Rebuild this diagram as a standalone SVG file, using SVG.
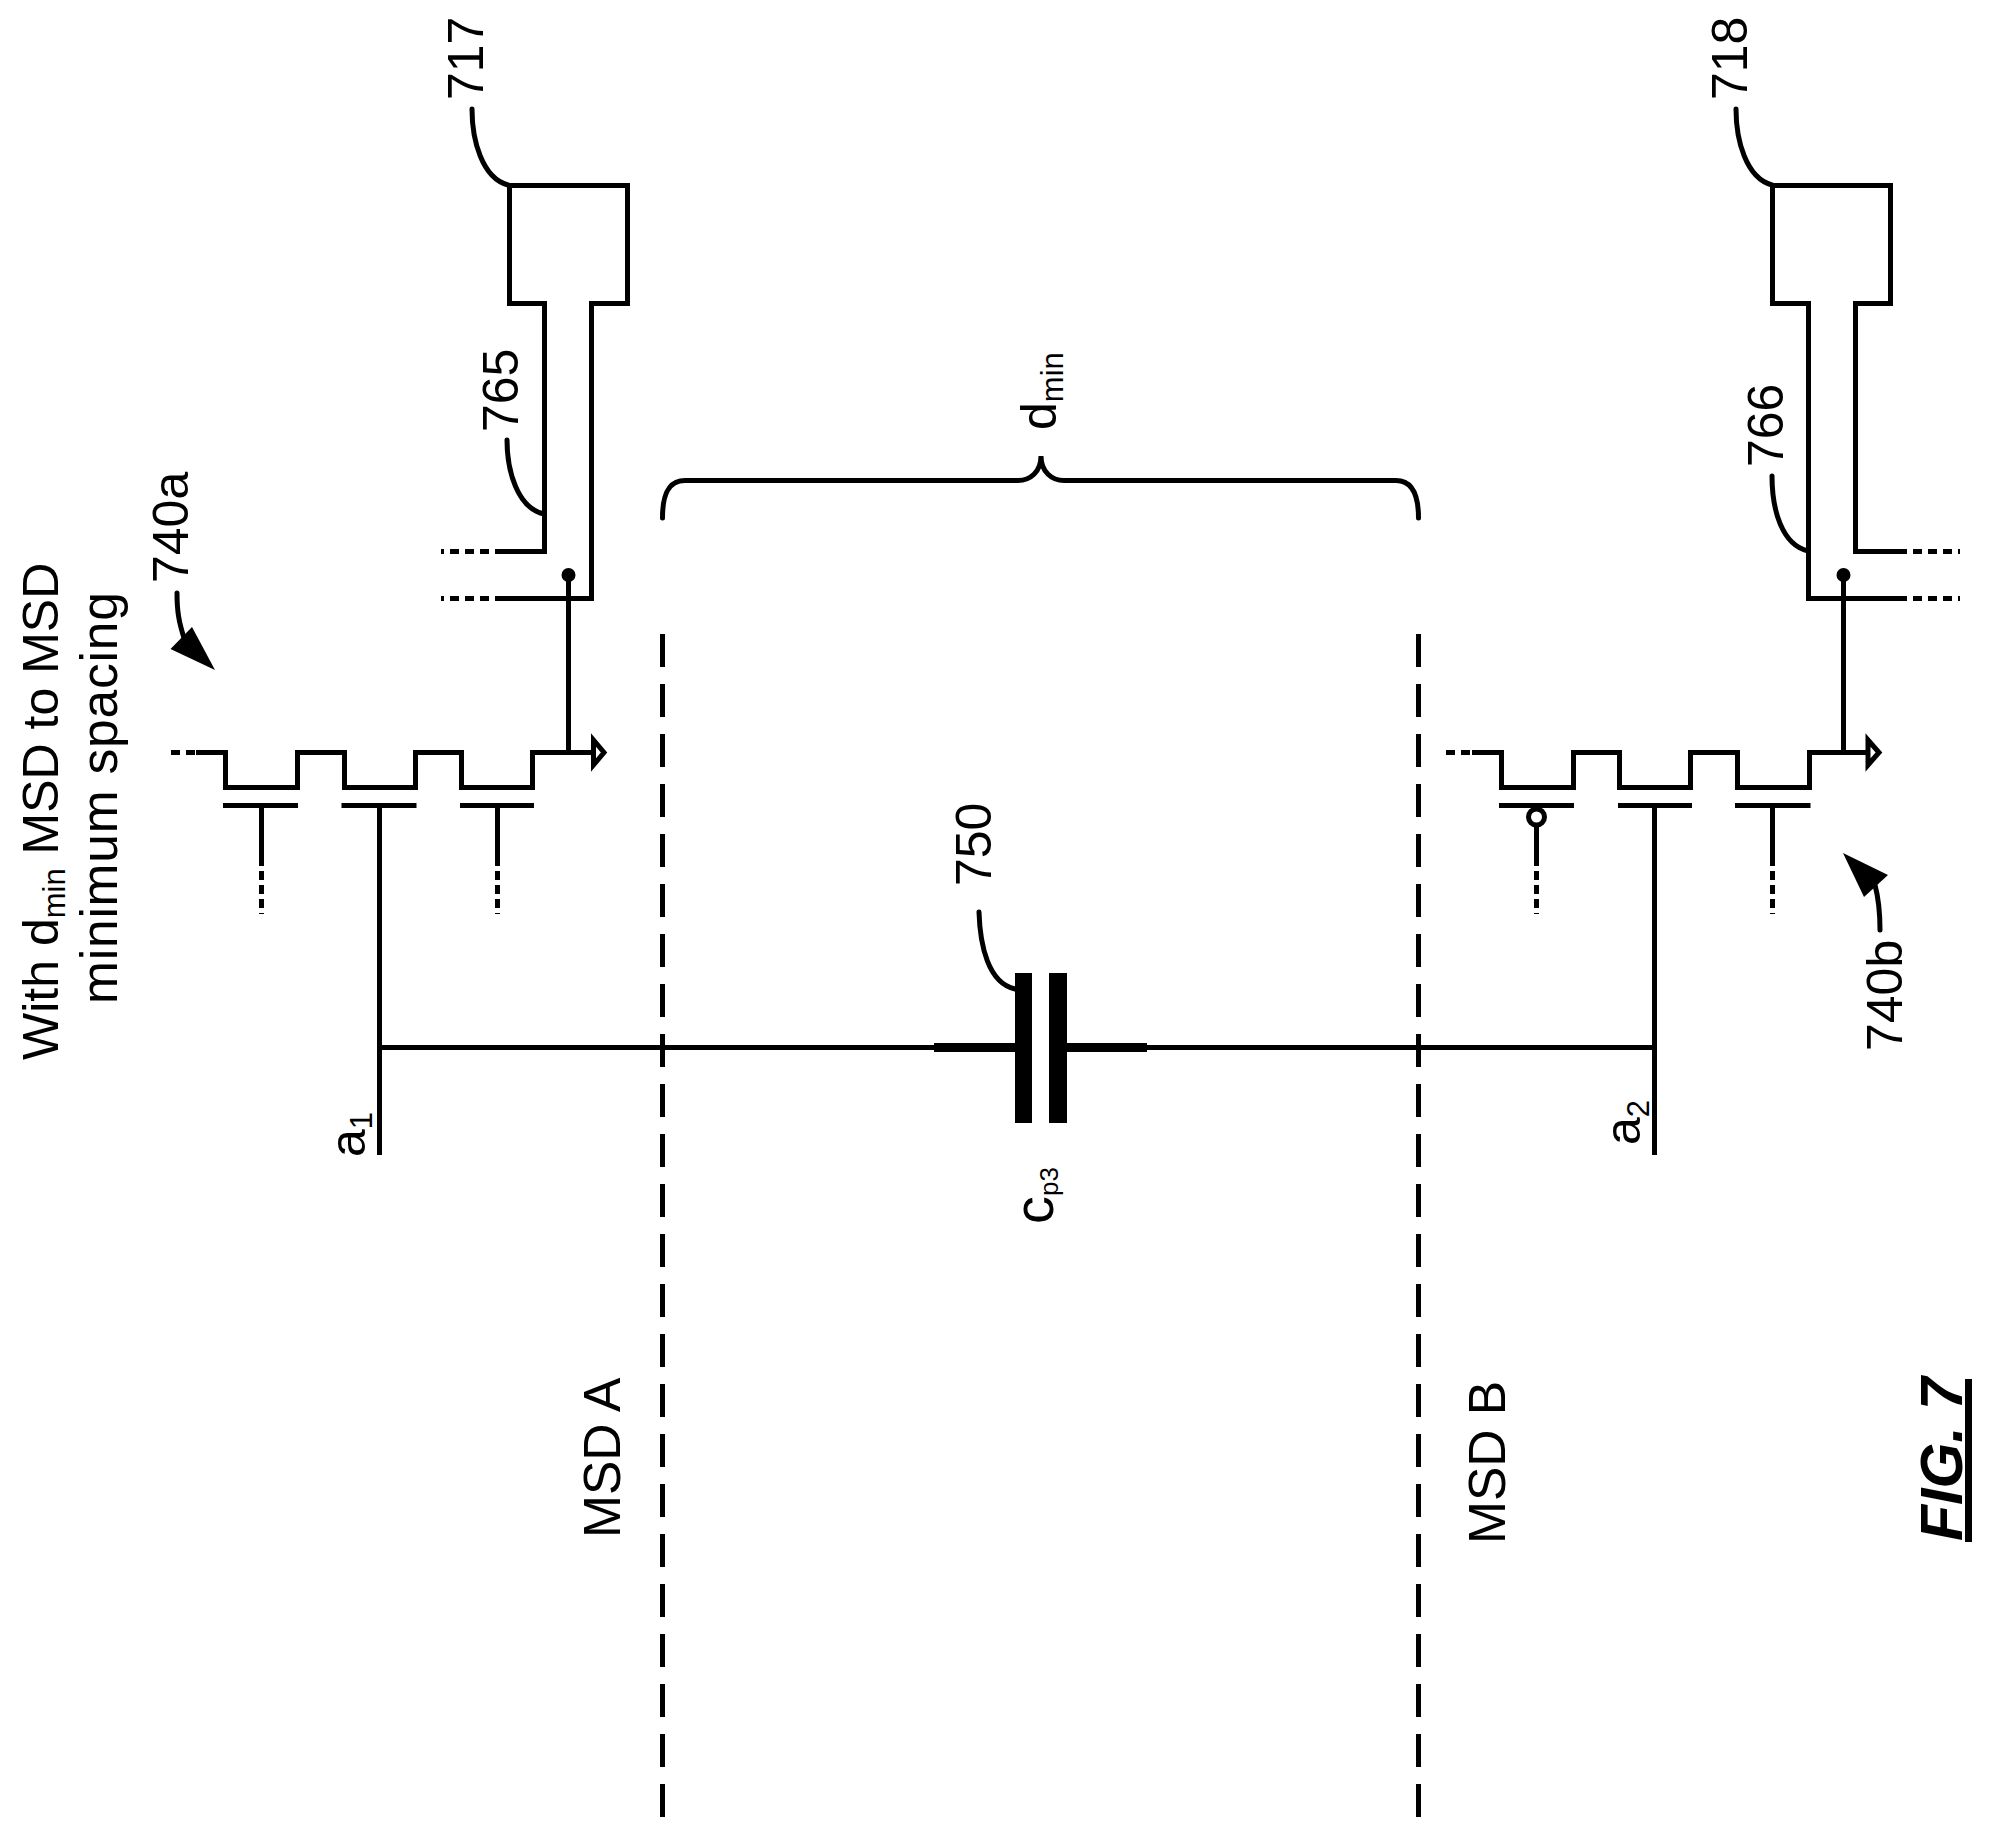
<svg xmlns="http://www.w3.org/2000/svg" width="1992" height="1838" viewBox="0 0 1992 1838">
<style>
text{font-family:"Liberation Sans",Arial,sans-serif;font-size:50px;fill:#000}
.sub{font-size:31px}
.sub2{font-size:26px}
.big{font-size:51.500px;letter-spacing:.8px}
.msd{font-size:51.500px}
.fig{font-size:59px;font-weight:bold;font-style:italic}
.w{fill:none;stroke:#000;stroke-width:5;stroke-linejoin:miter}
.l{fill:none;stroke:#000;stroke-width:5;stroke-linecap:round}
.dot{fill:none;stroke:#000;stroke-width:5;stroke-dasharray:9 5}
.hd{fill:none;stroke:#000;stroke-width:5;stroke-dasharray:9 6}
.dd{fill:none;stroke:#000;stroke-width:5;stroke-dasharray:33 17}
.k{fill:#000}
</style>
<rect width="1992" height="1838" fill="#fff"/>
<g id="connectors">
<path class="w" d="M379.500 805V1155M379.500 1047.500H934M1147 1047.500H1654.500M1654.500 805V1155"/>
<path class="dd" d="M662.500 634V1826"/>
<path class="dd" d="M1418.500 634V1826"/>
<path class="w" d="M568.500 752V575"/>
<path class="w" d="M1843.500 752V575"/>
<path class="l" d="M472 109C472 140 482 178 508 185"/>
<path class="l" d="M1736 109C1736 140 1746 178 1772 185"/>
<path class="l" d="M507 440C507 470 517 508 544 514"/>
<path class="l" d="M1772 476C1772 510 1782 545 1808 551"/>
<path class="l" d="M979 912C980 945 988 983 1015 989"/>
<path class="l" d="M662.500 518C662.500 495 668 480.500 685 480.500H1018C1030 480.500 1041 472 1041 456C1041 472 1052 480.500 1064 480.500H1396C1412 480.500 1418.500 495 1418.500 518" stroke-linecap="butt"/>
<path class="l" d="M177 593C177 612 179 622 184 638"/>
<polygon class="k" points="215,670 192,627 170.500,649"/>
<path class="l" d="M1880 930C1880 912 1879 900 1875 885"/>
<polygon class="k" points="1843,853 1888,875 1864,897"/>
</g>
<g id="box-717"><path class="w" d="M504 551.500H544.500V303.500H509.500V185.500H627.500V303.500H591.500V598.500H504"/><path class="hd" d="M504 551.500H441M504 598.500H441"/></g>
<g id="box-718"><path class="w" d="M1898 598.500H1808.500V303.500H1772.500V185.500H1890.500V303.500H1855.500V551.500H1898"/><path class="hd" d="M1898 551.500H1960M1898 598.500H1960"/></g>
<circle class="k" cx="568.500" cy="575" r="7"/>
<circle class="k" cx="1843.500" cy="575" r="7"/>
<g id="msd-740a">
<path class="hd" d="M171 752.500H196"/>
<path class="w" d="M196 752.500H225.500V787.500H297.500V752.500H344.500V787.500H415.500V752.500H461.500V787.500H532.500V752.500H594"/>
<polygon points="593.500,740 593.500,765 604,752.500" fill="#fff" stroke="#000" stroke-width="5"/>
<path class="w" d="M223 805.500H298M341.500 805.500H416.500M460 805.500H534M261.500 805.500V857M497.500 805.500V857"/>
<path class="dot" d="M261.500 857V914M497.500 857V914"/>
</g>
<g id="msd-740b">
<path class="hd" d="M1446 752.500H1472"/>
<path class="w" d="M1472 752.500H1501.500V787.500H1573.500V752.500H1619.500V787.500H1690.500V752.500H1737.500V787.500H1809.500V752.500H1868"/>
<polygon points="1868,740 1868,765 1879,752.500" fill="#fff" stroke="#000" stroke-width="5"/>
<path class="w" d="M1499 805.500H1574M1618 805.500H1692M1735 805.500H1810.500M1772.500 805.500V857M1536.500 826V857"/>
<circle cx="1536.500" cy="817" r="8" fill="#fff" stroke="#000" stroke-width="5"/>
<path class="dot" d="M1536.500 857V914M1772.500 857V914"/>
</g>
<g id="cap-750">
<rect class="k" x="1015" y="973" width="17" height="150"/>
<rect class="k" x="1049" y="973" width="18" height="150"/>
<rect class="k" x="934" y="1043" width="81" height="9"/>
<rect class="k" x="1067" y="1043" width="80" height="9"/>
</g>
<g id="labels">
<text transform="translate(58,1060) rotate(-90)">With d<tspan class="sub" dy="7">min</tspan><tspan dy="-7"> MSD to MSD</tspan></text>
<text class="big" transform="translate(117,1004) rotate(-90)">minimum spacing</text>
<text transform="translate(188,583) rotate(-90)">740a</text>
<text transform="translate(483,100) rotate(-90)">717</text>
<text transform="translate(1747,100) rotate(-90)">718</text>
<text transform="translate(518,432) rotate(-90)">765</text>
<text transform="translate(1783,467) rotate(-90)">766</text>
<text transform="translate(991,886) rotate(-90)">750</text>
<text transform="translate(1902,1051) rotate(-90)">740b</text>
<text transform="translate(1056,430) rotate(-90)">d<tspan class="sub" dy="7">min</tspan></text>
<text transform="translate(365,1157) rotate(-90)">a<tspan class="sub" dy="7">1</tspan></text>
<text transform="translate(1640,1145) rotate(-90)">a<tspan class="sub" dy="9">2</tspan></text>
<text transform="translate(1053,1224) rotate(-90)"><tspan font-size="56">c</tspan><tspan class="sub2" dy="5">p3</tspan></text>
<text class="msd" transform="translate(620,1538) rotate(-90)">MSD A</text>
<text class="msd" transform="translate(1505,1544) rotate(-90)">MSD B</text>
<text class="fig" transform="translate(1962,1541) rotate(-90)">FIG. 7</text>
<rect class="k" x="1965" y="1379" width="7" height="163"/>
</g>
</svg>
